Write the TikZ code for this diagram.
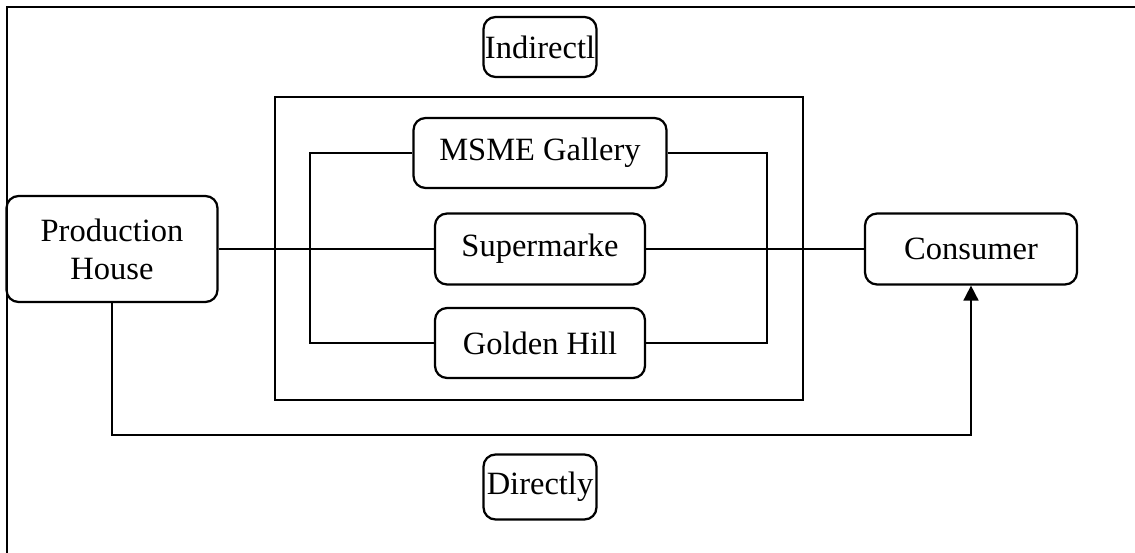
\documentclass[tikz,border=0pt]{standalone}
\usepackage{fontspec}
\setmainfont{Liberation Serif}
\usetikzlibrary{arrows.meta}
\tikzset{
  rbox/.style={draw, line width=0.045cm, rounded corners=0.24cm, align=center, inner sep=0pt},
  link/.style={line width=0.035cm}
}
\begin{document}
\begin{tikzpicture}[x=0.02cm, y=-0.02cm]
                \useasboundingbox (0,0) rectangle (1135,553);
                {\fontsize{18.5}{21.5}\selectfont

                % Drawing frame
                \draw [line width=0.03cm] (7,553) -- (7,7) -- (1135,7);%

                % Drawing outer rectangle
                \draw [line width=0.04cm] (275,97) rectangle (803,400);%

                % Marking channel boxes
                \node [rbox, minimum width=2.26cm, minimum height=1.2cm] (ind) at (540,47) {Indirectl};%
                \node [rbox, minimum width=5.06cm, minimum height=1.4cm] (msme) at (540,153) {MSME Gallery};%
                \node [rbox, minimum width=4.2cm, minimum height=1.42cm] (sup) at (540,249) {Supermarke};%
                \node [rbox, minimum width=4.2cm, minimum height=1.4cm] (gold) at (540,343) {Golden Hill};%
                \node [rbox, minimum width=4.22cm, minimum height=2.12cm] (prod) at (112,249) {Production\\House};%
                \node [rbox, minimum width=4.24cm, minimum height=1.42cm] (cons) at (971,249) {Consumer};%
                \node [rbox, minimum width=2.26cm, minimum height=1.3cm] (dir) at (540,487) {Directly};%

                % Drawing segment prod sup cons
                \draw [link] (prod.east) -- (sup.west);%
                \draw [link] (sup.east) -- (cons.west);%

                % Drawing bracket msme gold
                \draw [link] (msme.west) -- (310,153) -- (310,343) -- (gold.west);%
                \draw [link] (msme.east) -- (767,153) -- (767,343) -- (gold.east);%

                % Drawing direct route prod cons
                \draw [link, -{Triangle[length=0.3cm, width=0.3cm]}] (prod.south) -- (112,435) -- (971,435) -- (cons.south);%
                }
            \end{tikzpicture}
\end{document}
